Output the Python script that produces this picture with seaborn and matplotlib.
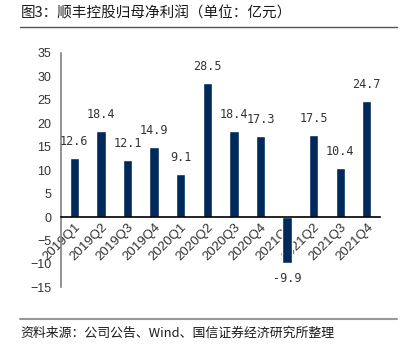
import matplotlib
matplotlib.use("Agg")
import matplotlib.pyplot as plt
import seaborn as sns
import pandas as pd

quarters = ["2019Q1", "2019Q2", "2019Q3", "2019Q4", "2020Q1", "2020Q2",
            "2020Q3", "2020Q4", "2021Q1", "2021Q2", "2021Q3", "2021Q4"]
profit = [12.6, 18.4, 12.1, 14.9, 9.1, 28.5, 18.4, 17.3, -9.9, 17.5, 10.4, 24.7]
yticks = [-15, -10, -5, 0, 5, 10, 15, 20, 25, 30, 35]

title = "图3：顺丰控股归母净利润（单位：亿元）"
source = "资料来源：公司公告、Wind、国信证券经济研究所整理"

sns.set_theme(style="white")
plt.rcParams["font.family"] = ["Noto Sans CJK SC", "DejaVu Sans"]
plt.rcParams["axes.unicode_minus"] = True

df = pd.DataFrame({"quarter": quarters, "profit": profit})

fig = plt.figure(figsize=(4.07, 3.5), dpi=100)
ax = fig.add_axes([0.150, 0.179, 0.784, 0.670])

sns.barplot(data=df, x="quarter", y="profit", color="#002A5C",
            saturation=1, width=0.35, ax=ax)

ax.set_ylim(-15, 35)
ax.set_xlim(-0.5, 11.5)
ax.set_yticks(yticks)
ax.set_xlabel("")
ax.set_ylabel("")

# bottom spine sits on zero
ax.spines["bottom"].set_position(("data", 0))
ax.spines["bottom"].set_color("black")
ax.spines["bottom"].set_linewidth(1.2)
ax.spines["left"].set_color("#808080")
ax.spines["left"].set_linewidth(1.2)
ax.spines["top"].set_visible(False)
ax.spines["right"].set_visible(False)

ax.tick_params(axis="both", length=0)
ax.tick_params(axis="y", pad=7)
ax.tick_params(axis="x", pad=3)
for lab in ax.get_yticklabels():
    lab.set_family("Liberation Sans")
    lab.set_fontsize(9)
    lab.set_color("#333333")
for lab in ax.get_xticklabels():
    lab.set_family("Liberation Sans")
    lab.set_fontsize(9.5)
    lab.set_color("#333333")
    lab.set_rotation(45)
    lab.set_ha("right")
    lab.set_rotation_mode("anchor")

for i, v in enumerate(profit):
    off = 12 if v >= 0 else -11
    ax.annotate(f"{v}", (i, v), xytext=(0, off), textcoords="offset points",
                ha="center", va="center", fontsize=8.5, color="#333333",
                family="DejaVu Sans Mono")

fig.text(0.05, 0.963, title, fontsize=10.5, color="#1a1a1a", va="center", ha="left")
fig.add_artist(plt.Line2D([0.049, 0.975], [0.923, 0.923], color="#555555", lw=1.0))
fig.add_artist(plt.Line2D([0.049, 0.975], [0.089, 0.089], color="#999999", lw=1.5))
fig.text(0.05, 0.049, source, fontsize=9.3, color="#1a1a1a", va="center", ha="left")

fig.savefig("out.png", dpi=100)
